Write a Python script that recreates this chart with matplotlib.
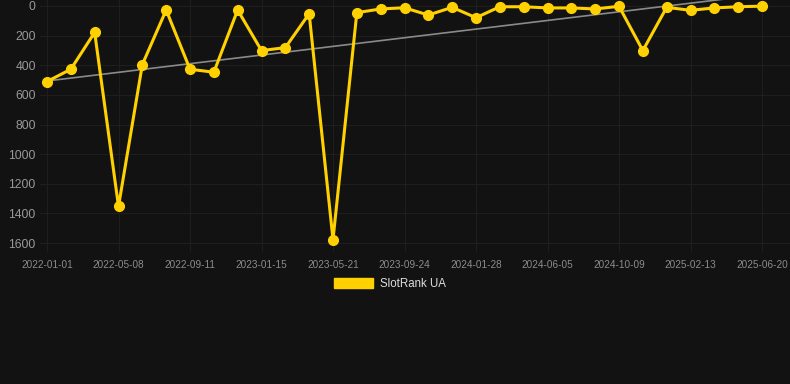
import numpy as np
import matplotlib
matplotlib.use("Agg")
import matplotlib.pyplot as plt
from matplotlib.patches import Patch

plt.rcParams['font.family'] = ['Liberation Sans', 'DejaVu Sans']

tick_labels = ["2022-01-01", "2022-05-08", "2022-09-11", "2023-01-15", "2023-05-21",
               "2023-09-24", "2024-01-28", "2024-06-05", "2024-10-09", "2025-02-13",
               "2025-06-20"]
ranks = [510, 427, 178, 1353, 395, 27, 427, 447, 27, 301, 281, 52, 1577, 45, 20,
         12, 61, 9, 79, 5, 5, 13, 13, 20, 2, 301, 9, 29, 13, 5, 1]
series_name = "SlotRank UA"

BG = "#121212"
YEL = "#FFD100"

W, H = 790, 384
fig = plt.figure(figsize=(W / 100, H / 100), dpi=100, facecolor=BG)
left, right, top, bottom = 40, 790, 0, 252
ax = fig.add_axes([left / W, 1 - bottom / H, (right - left) / W, (bottom - top) / H])
ax.set_facecolor(BG)

x = np.arange(len(ranks))
y = np.array(ranks, dtype=float)

coef = np.polyfit(x, y, 1)
ax.plot(x, np.polyval(coef, x), color="#8a8a8a", lw=1.2, zorder=2)

ax.plot(x, y, color=YEL, lw=2.2, marker='o', markersize=7, markerfacecolor=YEL,
        markeredgecolor=YEL, solid_joinstyle='miter', zorder=3, clip_on=False)

px_per_idx = (762 - 47) / 30
ax.set_xlim(-(47 - left) / px_per_idx, 30 + (right - 762) / px_per_idx)
val_per_px = 1600 / (243 - 6)
ax.set_ylim(1600 + (bottom - 243) * val_per_px, -(6 - top) * val_per_px)

tick_pos = np.arange(0, len(ranks), 3)
ax.set_xticks(tick_pos)
ax.set_xticklabels(tick_labels)
ax.set_yticks(np.arange(0, 1601, 200))
ax.set_yticklabels([str(v) for v in range(0, 1601, 200)])

ax.tick_params(axis='x', colors="#8c8c8c", labelsize=7.2, length=0, pad=6)
ax.tick_params(axis='y', colors="#999999", labelsize=8.7, length=0, pad=3)
ax.grid(True, color="#1e1e1e", lw=0.8)
for s in ax.spines.values():
    s.set_visible(False)

leg = fig.legend(handles=[Patch(facecolor=YEL, edgecolor=YEL)], labels=[series_name],
                 loc='center', bbox_to_anchor=(390 / W, 1 - 284 / H), frameon=False,
                 fontsize=8.3, handlelength=3.4, handleheight=0.9, handletextpad=0.6,
                 labelcolor="#dddddd")

fig.savefig("out.png", dpi=100, facecolor=BG)
